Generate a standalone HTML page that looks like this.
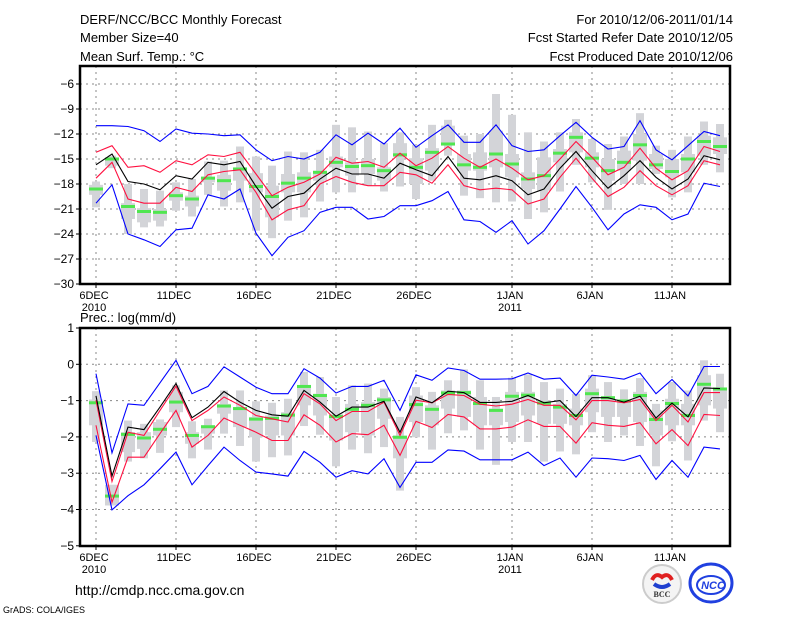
<!DOCTYPE html>
<html><head><meta charset="utf-8"><style>
body{margin:0;background:#fff;}
svg{display:block;font-family:"Liberation Sans",sans-serif;}
</style></head><body>
<svg id="chart" width="800" height="618" viewBox="0 0 800 618">
<g font-size="13" fill="#000">
<text x="80" y="24">DERF/NCC/BCC Monthly Forecast</text>
<text x="80" y="42">Member Size=40</text>
<text x="80" y="61">Mean Surf. Temp.: °C</text>
<text x="733" y="24" text-anchor="end">For 2010/12/06-2011/01/14</text>
<text x="733" y="42" text-anchor="end">Fcst Started Refer Date 2010/12/05</text>
<text x="733" y="61" text-anchor="end">Fcst Produced Date 2010/12/06</text>
</g>
<text x="80" y="322" font-size="13">Prec.: log(mm/d)</text>
<text x="75" y="595" font-size="14">http://cmdp.ncc.cma.gov.cn</text>
<text x="3" y="613" font-size="9">GrADS: COLA/IGES</text>
<g>
<circle cx="662" cy="584" r="19" fill="#f4f4f4" stroke="#ccc" stroke-width="2"/>
<path d="M652 580 q4 -8 10 -3 q6 -5 10 3" stroke="#e02020" stroke-width="4" fill="none"/>
<path d="M654 584 q8 6 16 0" stroke="#2040d0" stroke-width="4" fill="none"/>
<text x="662" y="597" font-size="8" text-anchor="middle" font-family="Liberation Serif,serif" font-weight="bold" fill="#333">BCC</text>
</g>
<g>
<ellipse cx="711" cy="583" rx="21" ry="19" fill="#fff" stroke="#2040e0" stroke-width="3"/>
<ellipse cx="711" cy="585" rx="14" ry="9" fill="none" stroke="#2040e0" stroke-width="2"/>
<text x="713" y="589" font-size="11" text-anchor="middle" font-style="italic" font-weight="bold" fill="#2040e0">NCC</text>
</g>
<g id="top"></g><g id="bot"></g>
</svg>
<script>
// ---- Temperature panel data (°C), day index 0 = 6 Dec 2010 ----
const tBlueHi=[-11.0,-11.0,-11.1,-11.6,-12.9,-11.4,-11.9,-12.0,-12.2,-12.1,-13.9,-15.2,-14.7,-15.0,-14.2,-12.1,-13.3,-11.9,-13.2,-11.3,-13.6,-12.2,-10.9,-13.0,-13.0,-10.9,-13.4,-14.1,-13.9,-12.2,-10.6,-12.4,-13.8,-13.5,-10.4,-13.9,-15.1,-13.4,-11.7,-12.2];
const tBlueLo=[-20.3,-18.1,-24.0,-24.7,-25.5,-23.5,-23.3,-19.3,-19.8,-18.6,-23.9,-26.6,-24.4,-23.6,-21.4,-20.8,-20.8,-22.2,-21.9,-20.6,-20.6,-20.0,-18.9,-22.3,-22.5,-23.8,-22.4,-25.2,-23.6,-21.0,-18.3,-20.8,-23.5,-21.6,-20.5,-20.8,-22.3,-21.6,-17.9,-18.3];
const tRedHi=[-14.2,-13.4,-16.0,-15.8,-16.6,-15.2,-15.7,-14.5,-14.7,-14.2,-16.8,-19.4,-18.4,-17.8,-16.8,-14.8,-15.5,-15.3,-16.0,-14.3,-15.8,-14.9,-13.5,-14.9,-16.0,-15.0,-16.1,-17.5,-17.0,-15.0,-12.9,-14.8,-16.9,-16.0,-13.7,-16.1,-17.5,-16.4,-13.5,-14.1];
const tRedLo=[-17.3,-15.4,-19.8,-20.3,-20.3,-18.4,-18.9,-16.9,-16.5,-16.3,-19.0,-22.3,-21.1,-20.6,-18.0,-17.1,-17.8,-18.2,-18.2,-16.6,-16.9,-17.9,-15.7,-18.2,-18.7,-18.5,-18.7,-20.4,-19.8,-17.2,-14.9,-17.3,-19.5,-18.4,-16.4,-18.2,-19.3,-18.2,-15.2,-15.7];
const tMean=[-15.7,-14.4,-17.7,-18.0,-18.7,-17.0,-17.4,-15.4,-15.7,-15.3,-18.3,-20.9,-19.5,-19.1,-17.4,-16.1,-16.8,-16.8,-17.3,-15.5,-16.3,-17.0,-14.7,-17.3,-17.5,-17.0,-17.6,-19.3,-18.6,-16.1,-14.1,-16.4,-18.5,-17.0,-15.2,-17.2,-18.6,-17.4,-14.6,-15.1];
const tObs=[-18.6,-15.0,-20.7,-21.3,-21.4,-19.4,-19.8,-17.3,-17.6,-16.2,-18.3,-19.5,-17.9,-17.3,-16.6,-15.4,-15.9,-15.8,-16.4,-14.5,-16.0,-14.2,-13.2,-15.7,-16.0,-14.4,-15.6,-17.4,-17.0,-14.3,-12.4,-14.9,-16.4,-15.4,-13.3,-15.7,-16.5,-15.0,-12.9,-13.5];
const tWhiskHi=[-17.7,-14.6,-18.0,-18.6,-18.8,-17.8,-17.4,-15.3,-15.2,-13.5,-14.7,-15.8,-14.1,-14.2,-13.9,-10.9,-11.2,-11.7,-13.1,-11.8,-13.3,-10.9,-10.3,-12.2,-12.0,-7.2,-9.7,-11.8,-12.9,-11.8,-10.2,-12.6,-13.2,-12.3,-9.5,-13.4,-13.9,-12.3,-10.5,-10.8];
const tWhiskLo=[-20.8,-16.1,-24.0,-23.2,-23.1,-21.2,-21.9,-19.3,-20.7,-20.2,-23.6,-24.5,-22.4,-22.0,-20.1,-19.0,-19.0,-18.2,-18.9,-18.3,-19.8,-17.6,-14.6,-19.4,-19.7,-20.2,-20.1,-22.2,-21.4,-18.9,-15.7,-17.8,-21.1,-18.0,-18.0,-16.8,-19.6,-19.0,-15.7,-16.6];
const tBoxHi=[-18.1,-14.9,-20.3,-20.9,-21.0,-19.0,-19.4,-17.1,-16.9,-16.0,-16.7,-18.2,-16.8,-16.6,-16.4,-14.7,-15.4,-15.0,-16.0,-13.1,-14.9,-13.7,-11.0,-14.4,-14.2,-11.6,-14.4,-16.6,-14.8,-13.8,-11.8,-14.2,-15.0,-14.0,-12.0,-14.4,-15.0,-14.4,-12.2,-12.4];
const tBoxLo=[-19.3,-15.8,-22.2,-22.6,-22.4,-20.0,-20.7,-17.8,-18.8,-17.6,-19.0,-22.0,-19.0,-19.0,-17.6,-16.0,-17.0,-16.8,-17.6,-14.8,-18.0,-16.4,-13.4,-16.4,-16.4,-16.0,-17.2,-18.6,-18.8,-15.4,-14.2,-16.0,-17.6,-16.4,-15.2,-16.2,-17.2,-16.6,-14.6,-14.4];
const tTicks=[-6,-9,-12,-15,-18,-21,-24,-27,-30];
// ---- Precipitation panel data (log mm/d) ----
const pBlueHi=[-0.26,-2.44,-1.09,-1.13,-0.51,0.11,-0.81,-0.61,-0.07,-0.35,-0.63,-0.81,-0.81,-0.12,-0.38,-0.79,-0.61,-0.61,-0.44,-1.27,-0.29,-0.44,-0.10,-0.17,-0.41,-0.41,-0.40,-0.24,-0.41,-0.38,-0.86,-0.30,-0.35,-0.41,-0.24,-0.81,-0.42,-0.87,-0.06,-0.06];
const pBlueLo=[-1.96,-4.01,-3.62,-3.32,-2.88,-2.42,-3.32,-2.79,-2.28,-2.65,-2.97,-3.02,-3.08,-2.40,-2.70,-3.11,-2.93,-3.02,-2.60,-3.39,-2.70,-2.70,-2.36,-2.39,-2.63,-2.63,-2.63,-2.42,-2.79,-2.58,-3.11,-2.58,-2.60,-2.65,-2.51,-3.17,-2.65,-3.11,-2.28,-2.33];
const pRedHi=[-0.99,-3.23,-1.87,-1.96,-1.27,-0.60,-1.55,-1.27,-0.90,-1.13,-1.41,-1.50,-1.59,-0.81,-1.09,-1.55,-1.30,-1.30,-1.04,-1.96,-0.99,-1.06,-0.83,-0.86,-1.10,-1.15,-1.10,-0.97,-1.13,-1.13,-1.53,-1.00,-1.00,-1.06,-0.97,-1.55,-1.13,-1.59,-0.78,-0.78];
const pRedLo=[-1.68,-3.80,-2.56,-2.56,-1.91,-1.27,-2.28,-1.96,-1.48,-1.68,-1.87,-2.10,-2.10,-1.39,-1.68,-2.14,-1.91,-1.94,-1.68,-2.51,-1.57,-1.74,-1.38,-1.45,-1.78,-1.78,-1.73,-1.53,-1.71,-1.71,-2.17,-1.61,-1.68,-1.71,-1.61,-2.19,-1.80,-2.24,-1.38,-1.41];
const pMean=[-0.87,-3.08,-1.73,-1.80,-1.18,-0.53,-1.47,-1.18,-0.75,-1.04,-1.27,-1.39,-1.43,-0.72,-1.04,-1.43,-1.18,-1.18,-1.02,-1.87,-0.90,-1.06,-0.74,-0.78,-1.05,-1.05,-1.02,-0.86,-1.06,-1.00,-1.44,-0.92,-0.92,-1.04,-0.88,-1.48,-1.07,-1.45,-0.65,-0.67];
const pObs=[-1.06,-3.63,-1.93,-2.03,-1.79,-1.04,-1.96,-1.72,-1.15,-1.22,-1.51,-1.49,-1.40,-0.61,-0.86,-1.44,-1.24,-1.13,-0.98,-2.01,-1.11,-1.24,-0.79,-0.78,-1.08,-1.27,-0.88,-0.85,-1.07,-1.18,-1.41,-0.81,-0.92,-1.01,-0.86,-1.52,-1.08,-1.41,-0.55,-0.68];
const pWhiskHi=[-0.74,-3.32,-1.55,-1.64,-1.52,-0.58,-1.57,-1.50,-0.72,-0.72,-1.02,-1.06,-0.95,-0.21,-0.35,-0.90,-0.58,-0.53,-0.67,-1.45,-0.63,-0.76,-0.44,-0.14,-0.44,-0.90,-0.37,-0.28,-0.49,-0.67,-0.81,-0.30,-0.49,-0.69,-0.38,-1.09,-0.49,-0.72,0.11,-0.26];
const pWhiskLo=[-2.14,-3.89,-2.68,-2.59,-2.44,-1.73,-2.59,-2.35,-1.91,-2.25,-2.68,-2.56,-2.51,-1.70,-1.94,-2.81,-2.35,-2.45,-2.28,-3.48,-2.01,-2.35,-1.90,-1.82,-2.35,-2.77,-2.14,-2.14,-2.68,-2.40,-2.48,-1.87,-2.14,-1.96,-2.25,-2.81,-2.12,-2.65,-1.55,-1.87];
const pBoxHi=[-0.97,-3.32,-1.87,-1.87,-1.59,-0.76,-1.87,-1.68,-1.09,-1.18,-1.45,-1.41,-1.32,-0.58,-0.81,-1.36,-1.09,-1.04,-0.90,-1.96,-0.86,-1.13,-0.72,-0.72,-0.90,-1.22,-0.76,-0.76,-0.99,-1.09,-1.22,-0.67,-0.90,-0.99,-0.76,-1.27,-0.95,-1.09,-0.30,-0.67];
const pBoxLo=[-1.68,-3.89,-2.42,-2.33,-1.96,-1.32,-2.19,-1.91,-1.36,-1.73,-2.01,-1.96,-1.96,-1.13,-1.41,-2.10,-1.87,-1.96,-1.50,-2.59,-1.59,-1.68,-1.22,-1.45,-1.68,-1.68,-1.59,-1.41,-1.64,-1.64,-1.68,-1.32,-1.45,-1.45,-1.59,-1.96,-1.68,-1.68,-1.13,-1.22];
const pTicks=[1,0,-1,-2,-3,-4,-5];
// ---- shared x-axis ----
const xTickDays=[0,5,10,15,20,26,31,36];
const xTickLabels=["6DEC","11DEC","16DEC","21DEC","26DEC","1JAN","6JAN","11JAN"];
const xTickYears=["2010","","","","","2011","",""];

const NS="http://www.w3.org/2000/svg";
const X0=80,X1=730;
function xs(d){return 96+16*d;}
function mk(tag,attrs,parent){const e=document.createElementNS(NS,tag);for(const k in attrs)e.setAttribute(k,attrs[k]);parent.appendChild(e);return e;}

function panel(g,cfg){
  const {top,bottom,ys,ticks,bh,bl,wh,wl,rh,rl,mean,obs,bhi,blo,name}=cfg;
  // grid
  ticks.forEach(t=>{const y=ys(t);
    const l=mk('line',{x1:X0,x2:X1,y1:y,y2:y,stroke:'#888','stroke-dasharray':'2,4'},g);
    
    
    mk('line',{x1:X0-4,x2:X0,y1:y,y2:y,stroke:'#000'},g);
    const tx=mk('text',{x:X0-6,y:y+4,'font-size':12,'text-anchor':'end'},g);
    tx.textContent=(t<0?'\u2212'+(-t):String(t));
    
    
  });
  xTickDays.forEach((d,i)=>{const x=xs(d);
    const l=mk('line',{x1:x,x2:x,y1:top,y2:bottom,stroke:'#888','stroke-dasharray':'2,4'},g);
    
    
    mk('line',{x1:x,x2:x,y1:bottom,y2:bottom+4,stroke:'#000'},g);
    const tx=mk('text',{x:x-2,y:bottom+15,'font-size':11,'text-anchor':'middle'},g);
    tx.textContent=xTickLabels[i];
    
    
    if(xTickYears[i]){const ty=mk('text',{x:x-2,y:bottom+27,'font-size':11,'text-anchor':'middle'},g);
      ty.textContent=xTickYears[i];
      
      }
  });
  // boxes
  obs.forEach((v,d)=>{const x=xs(d);
    const w=mk('rect',{x:x-4,y:ys(wh[d]),width:8,height:Math.max(1,ys(wl[d])-ys(wh[d])),fill:'#d3d4d8'},g);
    
    
    const b=mk('rect',{x:x-7,y:ys(bhi[d]),width:14,height:Math.max(1,ys(blo[d])-ys(bhi[d])),fill:'#d3d4d8'},g);
    
    
  });
  obs.forEach((v,d)=>{
    const m=mk('rect',{x:xs(d)-7,y:ys(v)-1.5,width:14,height:3,fill:'#50e650'},g);
    
    
  });
  const series=[[bh,'#0000ff','max'],[bl,'#0000ff','min'],[rh,'#ff1040','upper'],[rl,'#ff1040','lower'],[mean,'#000','mean']];
  series.forEach(([arr,c,n])=>{
    const p=mk('polyline',{points:arr.map((v,d)=>xs(d)+','+ys(v).toFixed(1)).join(' '),fill:'none',stroke:c,'stroke-width':1.1},g);
    
    
  });
  const f=mk('rect',{x:X0,y:top,width:X1-X0,height:bottom-top,fill:'none',stroke:'#000','stroke-width':2.5},g);
  
  
}
panel(document.getElementById('top'),{name:'temp',top:66,bottom:284,ys:v=>84+(-6-v)*25/3,ticks:tTicks,
  bh:tBlueHi,bl:tBlueLo,wh:tWhiskHi,wl:tWhiskLo,rh:tRedHi,rl:tRedLo,mean:tMean,obs:tObs,bhi:tBoxHi,blo:tBoxLo});
panel(document.getElementById('bot'),{name:'precip',top:328,bottom:546,ys:v=>364.3-v*36.3,ticks:pTicks,
  bh:pBlueHi,bl:pBlueLo,wh:pWhiskHi,wl:pWhiskLo,rh:pRedHi,rl:pRedLo,mean:pMean,obs:pObs,bhi:pBoxHi,blo:pBoxLo});
</script>
</body></html>
